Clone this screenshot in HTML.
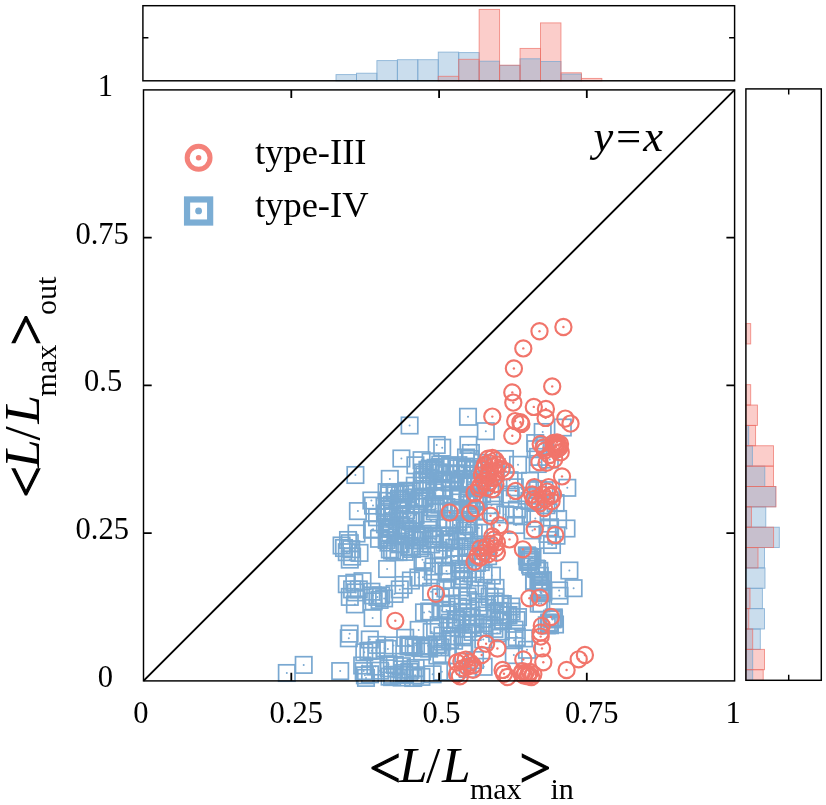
<!DOCTYPE html>
<html><head><meta charset="utf-8"><title>scatter</title><style>html,body{margin:0;padding:0;background:#fff}svg{display:block}</style></head><body>
<svg width="826" height="805" viewBox="0 0 826 805">
<rect width="826" height="805" fill="#fff"/>
<g stroke-width="0.9">
<rect x="438.25" y="76.30" width="20.45" height="4.50" fill="rgba(244,130,122,0.4)" stroke="none"/>
<rect x="458.70" y="59.30" width="20.45" height="21.50" fill="rgba(244,130,122,0.4)" stroke="none"/>
<rect x="479.15" y="9.40" width="20.45" height="71.40" fill="rgba(244,130,122,0.4)" stroke="none"/>
<rect x="499.60" y="65.20" width="20.45" height="15.60" fill="rgba(244,130,122,0.4)" stroke="none"/>
<rect x="520.05" y="48.40" width="20.45" height="32.40" fill="rgba(244,130,122,0.4)" stroke="none"/>
<rect x="540.50" y="22.90" width="20.45" height="57.90" fill="rgba(244,130,122,0.4)" stroke="none"/>
<rect x="560.95" y="72.80" width="20.45" height="8.00" fill="rgba(244,130,122,0.4)" stroke="none"/>
<rect x="581.40" y="78.40" width="20.45" height="2.40" fill="rgba(244,130,122,0.4)" stroke="none"/>
<rect x="745.90" y="323.60" width="4.80" height="20.36" fill="rgba(244,130,122,0.4)" stroke="none"/>
<rect x="745.90" y="384.68" width="4.80" height="20.36" fill="rgba(244,130,122,0.4)" stroke="none"/>
<rect x="745.90" y="405.04" width="11.50" height="20.36" fill="rgba(244,130,122,0.4)" stroke="none"/>
<rect x="745.90" y="425.40" width="9.70" height="20.36" fill="rgba(244,130,122,0.4)" stroke="none"/>
<rect x="745.90" y="445.76" width="27.60" height="20.36" fill="rgba(244,130,122,0.4)" stroke="none"/>
<rect x="745.90" y="466.12" width="27.60" height="20.36" fill="rgba(244,130,122,0.4)" stroke="none"/>
<rect x="745.90" y="486.48" width="30.10" height="20.36" fill="rgba(244,130,122,0.4)" stroke="none"/>
<rect x="745.90" y="506.84" width="5.50" height="20.36" fill="rgba(244,130,122,0.4)" stroke="none"/>
<rect x="745.90" y="527.20" width="27.70" height="20.36" fill="rgba(244,130,122,0.4)" stroke="none"/>
<rect x="745.90" y="547.56" width="12.10" height="20.36" fill="rgba(244,130,122,0.4)" stroke="none"/>
<rect x="745.90" y="588.28" width="4.10" height="20.36" fill="rgba(244,130,122,0.4)" stroke="none"/>
<rect x="745.90" y="608.64" width="2.90" height="20.36" fill="rgba(244,130,122,0.4)" stroke="none"/>
<rect x="745.90" y="629.00" width="6.80" height="20.36" fill="rgba(244,130,122,0.4)" stroke="none"/>
<rect x="745.90" y="649.36" width="18.60" height="20.36" fill="rgba(244,130,122,0.4)" stroke="none"/>
<rect x="745.90" y="669.72" width="17.30" height="10.58" fill="rgba(244,130,122,0.4)" stroke="none"/>
<rect x="336.00" y="74.60" width="20.45" height="6.20" fill="rgba(123,170,211,0.4)" stroke="none"/>
<rect x="356.45" y="73.20" width="20.45" height="7.60" fill="rgba(123,170,211,0.4)" stroke="none"/>
<rect x="376.90" y="60.60" width="20.45" height="20.20" fill="rgba(123,170,211,0.4)" stroke="none"/>
<rect x="397.35" y="59.70" width="20.45" height="21.10" fill="rgba(123,170,211,0.4)" stroke="none"/>
<rect x="417.80" y="59.70" width="20.45" height="21.10" fill="rgba(123,170,211,0.4)" stroke="none"/>
<rect x="438.25" y="52.10" width="20.45" height="28.70" fill="rgba(123,170,211,0.4)" stroke="none"/>
<rect x="458.70" y="52.60" width="20.45" height="28.20" fill="rgba(123,170,211,0.4)" stroke="none"/>
<rect x="479.15" y="61.20" width="20.45" height="19.60" fill="rgba(123,170,211,0.4)" stroke="none"/>
<rect x="499.60" y="65.40" width="20.45" height="15.40" fill="rgba(123,170,211,0.4)" stroke="none"/>
<rect x="520.05" y="58.80" width="20.45" height="22.00" fill="rgba(123,170,211,0.4)" stroke="none"/>
<rect x="540.50" y="61.50" width="20.45" height="19.30" fill="rgba(123,170,211,0.4)" stroke="none"/>
<rect x="560.95" y="74.10" width="20.45" height="6.70" fill="rgba(123,170,211,0.4)" stroke="none"/>
<rect x="745.90" y="425.40" width="2.80" height="20.36" fill="rgba(123,170,211,0.4)" stroke="none"/>
<rect x="745.90" y="445.76" width="6.50" height="20.36" fill="rgba(123,170,211,0.4)" stroke="none"/>
<rect x="745.90" y="466.12" width="18.90" height="20.36" fill="rgba(123,170,211,0.4)" stroke="none"/>
<rect x="745.90" y="486.48" width="29.70" height="20.36" fill="rgba(123,170,211,0.4)" stroke="none"/>
<rect x="745.90" y="506.84" width="19.90" height="20.36" fill="rgba(123,170,211,0.4)" stroke="none"/>
<rect x="745.90" y="527.20" width="33.40" height="20.36" fill="rgba(123,170,211,0.4)" stroke="none"/>
<rect x="745.90" y="547.56" width="18.60" height="20.36" fill="rgba(123,170,211,0.4)" stroke="none"/>
<rect x="745.90" y="567.92" width="19.10" height="20.36" fill="rgba(123,170,211,0.4)" stroke="none"/>
<rect x="745.90" y="588.28" width="16.50" height="20.36" fill="rgba(123,170,211,0.4)" stroke="none"/>
<rect x="745.90" y="608.64" width="18.60" height="20.36" fill="rgba(123,170,211,0.4)" stroke="none"/>
<rect x="745.90" y="629.00" width="14.40" height="20.36" fill="rgba(123,170,211,0.4)" stroke="none"/>
<rect x="745.90" y="649.36" width="6.80" height="20.36" fill="rgba(123,170,211,0.4)" stroke="none"/>
<rect x="745.90" y="669.72" width="6.80" height="10.58" fill="rgba(123,170,211,0.4)" stroke="none"/>
<rect x="336.00" y="74.60" width="20.45" height="6.20" fill="none" stroke="rgba(121,168,209,0.8)"/>
<rect x="356.45" y="73.20" width="20.45" height="7.60" fill="none" stroke="rgba(121,168,209,0.8)"/>
<rect x="376.90" y="60.60" width="20.45" height="20.20" fill="none" stroke="rgba(121,168,209,0.8)"/>
<rect x="397.35" y="59.70" width="20.45" height="21.10" fill="none" stroke="rgba(121,168,209,0.8)"/>
<rect x="417.80" y="59.70" width="20.45" height="21.10" fill="none" stroke="rgba(121,168,209,0.8)"/>
<rect x="438.25" y="52.10" width="20.45" height="28.70" fill="none" stroke="rgba(121,168,209,0.8)"/>
<rect x="458.70" y="52.60" width="20.45" height="28.20" fill="none" stroke="rgba(121,168,209,0.8)"/>
<rect x="479.15" y="61.20" width="20.45" height="19.60" fill="none" stroke="rgba(121,168,209,0.8)"/>
<rect x="499.60" y="65.40" width="20.45" height="15.40" fill="none" stroke="rgba(121,168,209,0.8)"/>
<rect x="520.05" y="58.80" width="20.45" height="22.00" fill="none" stroke="rgba(121,168,209,0.8)"/>
<rect x="540.50" y="61.50" width="20.45" height="19.30" fill="none" stroke="rgba(121,168,209,0.8)"/>
<rect x="560.95" y="74.10" width="20.45" height="6.70" fill="none" stroke="rgba(121,168,209,0.8)"/>
<rect x="745.90" y="425.40" width="2.80" height="20.36" fill="none" stroke="rgba(121,168,209,0.8)"/>
<rect x="745.90" y="445.76" width="6.50" height="20.36" fill="none" stroke="rgba(121,168,209,0.8)"/>
<rect x="745.90" y="466.12" width="18.90" height="20.36" fill="none" stroke="rgba(121,168,209,0.8)"/>
<rect x="745.90" y="486.48" width="29.70" height="20.36" fill="none" stroke="rgba(121,168,209,0.8)"/>
<rect x="745.90" y="506.84" width="19.90" height="20.36" fill="none" stroke="rgba(121,168,209,0.8)"/>
<rect x="745.90" y="527.20" width="33.40" height="20.36" fill="none" stroke="rgba(121,168,209,0.8)"/>
<rect x="745.90" y="547.56" width="18.60" height="20.36" fill="none" stroke="rgba(121,168,209,0.8)"/>
<rect x="745.90" y="567.92" width="19.10" height="20.36" fill="none" stroke="rgba(121,168,209,0.8)"/>
<rect x="745.90" y="588.28" width="16.50" height="20.36" fill="none" stroke="rgba(121,168,209,0.8)"/>
<rect x="745.90" y="608.64" width="18.60" height="20.36" fill="none" stroke="rgba(121,168,209,0.8)"/>
<rect x="745.90" y="629.00" width="14.40" height="20.36" fill="none" stroke="rgba(121,168,209,0.8)"/>
<rect x="745.90" y="649.36" width="6.80" height="20.36" fill="none" stroke="rgba(121,168,209,0.8)"/>
<rect x="745.90" y="669.72" width="6.80" height="10.58" fill="none" stroke="rgba(121,168,209,0.8)"/>
<rect x="438.25" y="76.30" width="20.45" height="4.50" fill="none" stroke="rgba(238,111,102,0.75)"/>
<rect x="458.70" y="59.30" width="20.45" height="21.50" fill="none" stroke="rgba(238,111,102,0.75)"/>
<rect x="479.15" y="9.40" width="20.45" height="71.40" fill="none" stroke="rgba(238,111,102,0.75)"/>
<rect x="499.60" y="65.20" width="20.45" height="15.60" fill="none" stroke="rgba(238,111,102,0.75)"/>
<rect x="520.05" y="48.40" width="20.45" height="32.40" fill="none" stroke="rgba(238,111,102,0.75)"/>
<rect x="540.50" y="22.90" width="20.45" height="57.90" fill="none" stroke="rgba(238,111,102,0.75)"/>
<rect x="560.95" y="72.80" width="20.45" height="8.00" fill="none" stroke="rgba(238,111,102,0.75)"/>
<rect x="581.40" y="78.40" width="20.45" height="2.40" fill="none" stroke="rgba(238,111,102,0.75)"/>
<rect x="745.90" y="323.60" width="4.80" height="20.36" fill="none" stroke="rgba(238,111,102,0.75)"/>
<rect x="745.90" y="384.68" width="4.80" height="20.36" fill="none" stroke="rgba(238,111,102,0.75)"/>
<rect x="745.90" y="405.04" width="11.50" height="20.36" fill="none" stroke="rgba(238,111,102,0.75)"/>
<rect x="745.90" y="425.40" width="9.70" height="20.36" fill="none" stroke="rgba(238,111,102,0.75)"/>
<rect x="745.90" y="445.76" width="27.60" height="20.36" fill="none" stroke="rgba(238,111,102,0.75)"/>
<rect x="745.90" y="466.12" width="27.60" height="20.36" fill="none" stroke="rgba(238,111,102,0.75)"/>
<rect x="745.90" y="486.48" width="30.10" height="20.36" fill="none" stroke="rgba(238,111,102,0.75)"/>
<rect x="745.90" y="506.84" width="5.50" height="20.36" fill="none" stroke="rgba(238,111,102,0.75)"/>
<rect x="745.90" y="527.20" width="27.70" height="20.36" fill="none" stroke="rgba(238,111,102,0.75)"/>
<rect x="745.90" y="547.56" width="12.10" height="20.36" fill="none" stroke="rgba(238,111,102,0.75)"/>
<rect x="745.90" y="588.28" width="4.10" height="20.36" fill="none" stroke="rgba(238,111,102,0.75)"/>
<rect x="745.90" y="608.64" width="2.90" height="20.36" fill="none" stroke="rgba(238,111,102,0.75)"/>
<rect x="745.90" y="629.00" width="6.80" height="20.36" fill="none" stroke="rgba(238,111,102,0.75)"/>
<rect x="745.90" y="649.36" width="18.60" height="20.36" fill="none" stroke="rgba(238,111,102,0.75)"/>
<rect x="745.90" y="669.72" width="17.30" height="10.58" fill="none" stroke="rgba(238,111,102,0.75)"/>
</g>
<g fill="none" stroke="#79a8d1" stroke-width="1.7">
<rect x="278.6" y="664.8" width="16.4" height="16.4"/>
<rect x="295.5" y="656.7" width="16.4" height="16.4"/>
<rect x="401.4" y="417.3" width="16.4" height="16.4"/>
<rect x="393.2" y="450.3" width="16.4" height="16.4"/>
<rect x="347.2" y="466.8" width="16.4" height="16.4"/>
<rect x="381.6" y="470.7" width="16.4" height="16.4"/>
<rect x="349.7" y="502.9" width="16.4" height="16.4"/>
<rect x="428.5" y="436.8" width="16.4" height="16.4"/>
<rect x="434.0" y="439.5" width="16.4" height="16.4"/>
<rect x="459.8" y="408.6" width="16.4" height="16.4"/>
<rect x="460.2" y="436.7" width="16.4" height="16.4"/>
<rect x="457.8" y="449.3" width="16.4" height="16.4"/>
<rect x="461.8" y="450.8" width="16.4" height="16.4"/>
<rect x="477.6" y="423.0" width="16.4" height="16.4"/>
<rect x="534.5" y="423.8" width="16.4" height="16.4"/>
<rect x="554.6" y="419.3" width="16.4" height="16.4"/>
<rect x="527.0" y="434.9" width="16.4" height="16.4"/>
<rect x="509.8" y="456.6" width="16.4" height="16.4"/>
<rect x="559.1" y="479.6" width="16.4" height="16.4"/>
<rect x="558.3" y="520.3" width="16.4" height="16.4"/>
<rect x="496.8" y="450.8" width="16.4" height="16.4"/>
<rect x="561.2" y="562.3" width="16.4" height="16.4"/>
<rect x="565.4" y="580.0" width="16.4" height="16.4"/>
<rect x="551.3" y="587.6" width="16.4" height="16.4"/>
<rect x="363.8" y="521.5" width="16.4" height="16.4"/>
<rect x="348.3" y="525.3" width="16.4" height="16.4"/>
<rect x="368.8" y="509.1" width="16.4" height="16.4"/>
<rect x="364.8" y="497.4" width="16.4" height="16.4"/>
<rect x="407.2" y="457.1" width="16.4" height="16.4"/>
<rect x="378.9" y="560.8" width="16.4" height="16.4"/>
<rect x="332.0" y="662.9" width="16.4" height="16.4"/>
<rect x="341.4" y="625.5" width="16.4" height="16.4"/>
<rect x="340.6" y="630.1" width="16.4" height="16.4"/>
<rect x="364.4" y="609.8" width="16.4" height="16.4"/>
<rect x="361.6" y="631.3" width="16.4" height="16.4"/>
<rect x="356.1" y="644.1" width="16.4" height="16.4"/>
<rect x="410.5" y="621.7" width="16.4" height="16.4"/>
<rect x="422.5" y="604.1" width="16.4" height="16.4"/>
<rect x="346.7" y="596.2" width="16.4" height="16.4"/>
<rect x="438.3" y="601.7" width="16.4" height="16.4"/>
<rect x="439.8" y="606.3" width="16.4" height="16.4"/>
<rect x="442.3" y="595.4" width="16.4" height="16.4"/>
<rect x="454.6" y="595.4" width="16.4" height="16.4"/>
<rect x="386.3" y="585.7" width="16.4" height="16.4"/>
<rect x="391.6" y="581.2" width="16.4" height="16.4"/>
<rect x="395.3" y="576.8" width="16.4" height="16.4"/>
<rect x="410.2" y="569.3" width="16.4" height="16.4"/>
<rect x="402.7" y="572.3" width="16.4" height="16.4"/>
<rect x="422.9" y="583.5" width="16.4" height="16.4"/>
<rect x="545.8" y="610.5" width="16.4" height="16.4"/>
<rect x="546.8" y="616.3" width="16.4" height="16.4"/>
<rect x="475.4" y="658.6" width="16.4" height="16.4"/>
<rect x="333.4" y="537.3" width="16.4" height="16.4"/>
<rect x="341.6" y="535.0" width="16.4" height="16.4"/>
<rect x="343.1" y="541.0" width="16.4" height="16.4"/>
<rect x="338.6" y="544.0" width="16.4" height="16.4"/>
<rect x="343.9" y="548.4" width="16.4" height="16.4"/>
<rect x="351.3" y="544.7" width="16.4" height="16.4"/>
<rect x="341.6" y="551.4" width="16.4" height="16.4"/>
<rect x="335.8" y="539.8" width="16.4" height="16.4"/>
<rect x="339.8" y="531.8" width="16.4" height="16.4"/>
<rect x="338.6" y="576.0" width="16.4" height="16.4"/>
<rect x="346.1" y="574.5" width="16.4" height="16.4"/>
<rect x="354.3" y="573.0" width="16.4" height="16.4"/>
<rect x="343.9" y="581.2" width="16.4" height="16.4"/>
<rect x="347.6" y="584.2" width="16.4" height="16.4"/>
<rect x="341.6" y="588.7" width="16.4" height="16.4"/>
<rect x="350.6" y="581.2" width="16.4" height="16.4"/>
<rect x="364.7" y="587.2" width="16.4" height="16.4"/>
<rect x="369.2" y="588.7" width="16.4" height="16.4"/>
<rect x="372.9" y="587.2" width="16.4" height="16.4"/>
<rect x="375.9" y="590.2" width="16.4" height="16.4"/>
<rect x="371.4" y="591.7" width="16.4" height="16.4"/>
<rect x="365.5" y="593.2" width="16.4" height="16.4"/>
<rect x="363.2" y="583.5" width="16.4" height="16.4"/>
<rect x="527.4" y="441.0" width="16.4" height="16.4"/>
<rect x="536.9" y="437.7" width="16.4" height="16.4"/>
<rect x="546.9" y="438.1" width="16.4" height="16.4"/>
<rect x="462.7" y="444.8" width="16.4" height="16.4"/>
<rect x="529.9" y="448.7" width="16.4" height="16.4"/>
<rect x="541.6" y="451.4" width="16.4" height="16.4"/>
<rect x="413.4" y="452.0" width="16.4" height="16.4"/>
<rect x="422.4" y="453.7" width="16.4" height="16.4"/>
<rect x="432.1" y="456.4" width="16.4" height="16.4"/>
<rect x="450.2" y="457.0" width="16.4" height="16.4"/>
<rect x="456.8" y="458.4" width="16.4" height="16.4"/>
<rect x="464.6" y="461.8" width="16.4" height="16.4"/>
<rect x="470.2" y="458.9" width="16.4" height="16.4"/>
<rect x="474.1" y="454.7" width="16.4" height="16.4"/>
<rect x="529.5" y="455.8" width="16.4" height="16.4"/>
<rect x="420.3" y="461.8" width="16.4" height="16.4"/>
<rect x="422.4" y="460.5" width="16.4" height="16.4"/>
<rect x="425.8" y="462.5" width="16.4" height="16.4"/>
<rect x="429.6" y="464.5" width="16.4" height="16.4"/>
<rect x="435.1" y="471.4" width="16.4" height="16.4"/>
<rect x="433.0" y="464.3" width="16.4" height="16.4"/>
<rect x="436.6" y="465.7" width="16.4" height="16.4"/>
<rect x="447.4" y="466.3" width="16.4" height="16.4"/>
<rect x="447.3" y="465.1" width="16.4" height="16.4"/>
<rect x="443.0" y="466.0" width="16.4" height="16.4"/>
<rect x="454.5" y="471.5" width="16.4" height="16.4"/>
<rect x="454.8" y="470.6" width="16.4" height="16.4"/>
<rect x="451.4" y="473.3" width="16.4" height="16.4"/>
<rect x="462.8" y="471.7" width="16.4" height="16.4"/>
<rect x="462.6" y="475.5" width="16.4" height="16.4"/>
<rect x="474.8" y="462.5" width="16.4" height="16.4"/>
<rect x="487.6" y="464.2" width="16.4" height="16.4"/>
<rect x="406.6" y="477.5" width="16.4" height="16.4"/>
<rect x="413.6" y="473.3" width="16.4" height="16.4"/>
<rect x="420.0" y="474.3" width="16.4" height="16.4"/>
<rect x="429.2" y="481.2" width="16.4" height="16.4"/>
<rect x="433.5" y="479.8" width="16.4" height="16.4"/>
<rect x="426.0" y="472.8" width="16.4" height="16.4"/>
<rect x="441.4" y="474.2" width="16.4" height="16.4"/>
<rect x="434.4" y="480.0" width="16.4" height="16.4"/>
<rect x="434.7" y="473.6" width="16.4" height="16.4"/>
<rect x="442.5" y="474.1" width="16.4" height="16.4"/>
<rect x="450.3" y="477.9" width="16.4" height="16.4"/>
<rect x="461.0" y="473.8" width="16.4" height="16.4"/>
<rect x="460.7" y="476.2" width="16.4" height="16.4"/>
<rect x="461.9" y="475.7" width="16.4" height="16.4"/>
<rect x="463.1" y="475.4" width="16.4" height="16.4"/>
<rect x="471.6" y="478.4" width="16.4" height="16.4"/>
<rect x="477.6" y="473.2" width="16.4" height="16.4"/>
<rect x="482.0" y="480.9" width="16.4" height="16.4"/>
<rect x="501.4" y="472.0" width="16.4" height="16.4"/>
<rect x="506.6" y="479.1" width="16.4" height="16.4"/>
<rect x="521.8" y="472.6" width="16.4" height="16.4"/>
<rect x="529.2" y="480.8" width="16.4" height="16.4"/>
<rect x="381.0" y="485.3" width="16.4" height="16.4"/>
<rect x="390.8" y="490.5" width="16.4" height="16.4"/>
<rect x="391.9" y="486.3" width="16.4" height="16.4"/>
<rect x="398.0" y="485.6" width="16.4" height="16.4"/>
<rect x="397.9" y="482.6" width="16.4" height="16.4"/>
<rect x="411.7" y="490.6" width="16.4" height="16.4"/>
<rect x="405.7" y="489.2" width="16.4" height="16.4"/>
<rect x="416.2" y="490.2" width="16.4" height="16.4"/>
<rect x="416.2" y="489.6" width="16.4" height="16.4"/>
<rect x="426.6" y="484.1" width="16.4" height="16.4"/>
<rect x="426.8" y="487.9" width="16.4" height="16.4"/>
<rect x="434.4" y="481.9" width="16.4" height="16.4"/>
<rect x="433.7" y="480.6" width="16.4" height="16.4"/>
<rect x="450.9" y="488.4" width="16.4" height="16.4"/>
<rect x="452.4" y="487.2" width="16.4" height="16.4"/>
<rect x="443.8" y="486.1" width="16.4" height="16.4"/>
<rect x="460.9" y="490.6" width="16.4" height="16.4"/>
<rect x="459.3" y="489.6" width="16.4" height="16.4"/>
<rect x="466.8" y="490.2" width="16.4" height="16.4"/>
<rect x="468.9" y="491.3" width="16.4" height="16.4"/>
<rect x="470.1" y="493.4" width="16.4" height="16.4"/>
<rect x="473.9" y="485.9" width="16.4" height="16.4"/>
<rect x="486.7" y="485.0" width="16.4" height="16.4"/>
<rect x="501.6" y="486.3" width="16.4" height="16.4"/>
<rect x="502.1" y="490.5" width="16.4" height="16.4"/>
<rect x="518.9" y="487.5" width="16.4" height="16.4"/>
<rect x="529.7" y="482.0" width="16.4" height="16.4"/>
<rect x="536.3" y="482.0" width="16.4" height="16.4"/>
<rect x="363.2" y="492.3" width="16.4" height="16.4"/>
<rect x="376.3" y="498.1" width="16.4" height="16.4"/>
<rect x="389.9" y="501.4" width="16.4" height="16.4"/>
<rect x="383.8" y="496.6" width="16.4" height="16.4"/>
<rect x="391.9" y="496.5" width="16.4" height="16.4"/>
<rect x="393.6" y="494.5" width="16.4" height="16.4"/>
<rect x="392.7" y="492.0" width="16.4" height="16.4"/>
<rect x="409.4" y="495.7" width="16.4" height="16.4"/>
<rect x="410.9" y="492.7" width="16.4" height="16.4"/>
<rect x="419.0" y="493.1" width="16.4" height="16.4"/>
<rect x="415.6" y="489.7" width="16.4" height="16.4"/>
<rect x="427.5" y="500.6" width="16.4" height="16.4"/>
<rect x="431.2" y="496.4" width="16.4" height="16.4"/>
<rect x="423.8" y="499.0" width="16.4" height="16.4"/>
<rect x="438.2" y="499.0" width="16.4" height="16.4"/>
<rect x="450.8" y="501.6" width="16.4" height="16.4"/>
<rect x="447.2" y="499.7" width="16.4" height="16.4"/>
<rect x="460.9" y="500.4" width="16.4" height="16.4"/>
<rect x="463.0" y="501.5" width="16.4" height="16.4"/>
<rect x="459.5" y="496.7" width="16.4" height="16.4"/>
<rect x="469.9" y="492.4" width="16.4" height="16.4"/>
<rect x="463.5" y="495.2" width="16.4" height="16.4"/>
<rect x="483.3" y="497.0" width="16.4" height="16.4"/>
<rect x="508.7" y="501.3" width="16.4" height="16.4"/>
<rect x="521.3" y="492.7" width="16.4" height="16.4"/>
<rect x="527.1" y="494.7" width="16.4" height="16.4"/>
<rect x="538.2" y="497.0" width="16.4" height="16.4"/>
<rect x="547.4" y="494.9" width="16.4" height="16.4"/>
<rect x="380.8" y="503.9" width="16.4" height="16.4"/>
<rect x="391.5" y="507.0" width="16.4" height="16.4"/>
<rect x="383.8" y="507.2" width="16.4" height="16.4"/>
<rect x="397.9" y="502.1" width="16.4" height="16.4"/>
<rect x="397.0" y="505.8" width="16.4" height="16.4"/>
<rect x="407.4" y="506.7" width="16.4" height="16.4"/>
<rect x="402.5" y="507.2" width="16.4" height="16.4"/>
<rect x="421.4" y="511.0" width="16.4" height="16.4"/>
<rect x="426.5" y="503.1" width="16.4" height="16.4"/>
<rect x="440.0" y="510.8" width="16.4" height="16.4"/>
<rect x="445.0" y="503.7" width="16.4" height="16.4"/>
<rect x="451.1" y="503.1" width="16.4" height="16.4"/>
<rect x="452.0" y="503.7" width="16.4" height="16.4"/>
<rect x="451.3" y="502.0" width="16.4" height="16.4"/>
<rect x="468.0" y="502.8" width="16.4" height="16.4"/>
<rect x="486.9" y="504.3" width="16.4" height="16.4"/>
<rect x="497.1" y="506.2" width="16.4" height="16.4"/>
<rect x="505.9" y="507.1" width="16.4" height="16.4"/>
<rect x="513.8" y="508.1" width="16.4" height="16.4"/>
<rect x="527.1" y="510.3" width="16.4" height="16.4"/>
<rect x="540.4" y="504.1" width="16.4" height="16.4"/>
<rect x="549.9" y="510.8" width="16.4" height="16.4"/>
<rect x="364.9" y="521.0" width="16.4" height="16.4"/>
<rect x="381.8" y="520.7" width="16.4" height="16.4"/>
<rect x="382.0" y="524.2" width="16.4" height="16.4"/>
<rect x="382.8" y="520.1" width="16.4" height="16.4"/>
<rect x="383.1" y="519.0" width="16.4" height="16.4"/>
<rect x="382.6" y="519.7" width="16.4" height="16.4"/>
<rect x="398.6" y="520.9" width="16.4" height="16.4"/>
<rect x="393.0" y="516.9" width="16.4" height="16.4"/>
<rect x="396.8" y="518.7" width="16.4" height="16.4"/>
<rect x="402.5" y="512.9" width="16.4" height="16.4"/>
<rect x="400.0" y="512.0" width="16.4" height="16.4"/>
<rect x="403.3" y="513.6" width="16.4" height="16.4"/>
<rect x="420.2" y="521.7" width="16.4" height="16.4"/>
<rect x="422.8" y="512.4" width="16.4" height="16.4"/>
<rect x="436.4" y="519.4" width="16.4" height="16.4"/>
<rect x="446.5" y="517.0" width="16.4" height="16.4"/>
<rect x="446.2" y="516.7" width="16.4" height="16.4"/>
<rect x="450.2" y="513.6" width="16.4" height="16.4"/>
<rect x="459.2" y="515.9" width="16.4" height="16.4"/>
<rect x="460.5" y="518.1" width="16.4" height="16.4"/>
<rect x="470.7" y="519.8" width="16.4" height="16.4"/>
<rect x="507.8" y="516.8" width="16.4" height="16.4"/>
<rect x="540.9" y="519.2" width="16.4" height="16.4"/>
<rect x="370.8" y="530.6" width="16.4" height="16.4"/>
<rect x="379.5" y="529.5" width="16.4" height="16.4"/>
<rect x="389.0" y="522.5" width="16.4" height="16.4"/>
<rect x="388.7" y="522.6" width="16.4" height="16.4"/>
<rect x="398.2" y="528.0" width="16.4" height="16.4"/>
<rect x="401.3" y="526.9" width="16.4" height="16.4"/>
<rect x="396.7" y="525.6" width="16.4" height="16.4"/>
<rect x="405.7" y="531.8" width="16.4" height="16.4"/>
<rect x="408.8" y="529.4" width="16.4" height="16.4"/>
<rect x="412.0" y="528.0" width="16.4" height="16.4"/>
<rect x="414.4" y="525.8" width="16.4" height="16.4"/>
<rect x="423.8" y="525.6" width="16.4" height="16.4"/>
<rect x="423.7" y="530.3" width="16.4" height="16.4"/>
<rect x="426.9" y="531.5" width="16.4" height="16.4"/>
<rect x="441.8" y="528.2" width="16.4" height="16.4"/>
<rect x="432.6" y="527.8" width="16.4" height="16.4"/>
<rect x="442.3" y="531.1" width="16.4" height="16.4"/>
<rect x="440.9" y="531.3" width="16.4" height="16.4"/>
<rect x="457.9" y="522.4" width="16.4" height="16.4"/>
<rect x="456.0" y="527.1" width="16.4" height="16.4"/>
<rect x="465.5" y="524.7" width="16.4" height="16.4"/>
<rect x="477.4" y="524.6" width="16.4" height="16.4"/>
<rect x="524.3" y="522.2" width="16.4" height="16.4"/>
<rect x="539.3" y="525.7" width="16.4" height="16.4"/>
<rect x="381.7" y="541.2" width="16.4" height="16.4"/>
<rect x="390.9" y="536.1" width="16.4" height="16.4"/>
<rect x="392.5" y="535.8" width="16.4" height="16.4"/>
<rect x="401.2" y="539.0" width="16.4" height="16.4"/>
<rect x="411.6" y="540.0" width="16.4" height="16.4"/>
<rect x="403.0" y="538.0" width="16.4" height="16.4"/>
<rect x="413.8" y="532.3" width="16.4" height="16.4"/>
<rect x="423.0" y="536.2" width="16.4" height="16.4"/>
<rect x="436.4" y="534.4" width="16.4" height="16.4"/>
<rect x="446.0" y="539.6" width="16.4" height="16.4"/>
<rect x="451.4" y="539.5" width="16.4" height="16.4"/>
<rect x="454.2" y="532.9" width="16.4" height="16.4"/>
<rect x="459.6" y="538.0" width="16.4" height="16.4"/>
<rect x="464.5" y="538.7" width="16.4" height="16.4"/>
<rect x="477.7" y="538.1" width="16.4" height="16.4"/>
<rect x="414.3" y="551.6" width="16.4" height="16.4"/>
<rect x="430.6" y="542.2" width="16.4" height="16.4"/>
<rect x="434.5" y="546.1" width="16.4" height="16.4"/>
<rect x="442.8" y="547.2" width="16.4" height="16.4"/>
<rect x="445.7" y="548.9" width="16.4" height="16.4"/>
<rect x="458.1" y="545.5" width="16.4" height="16.4"/>
<rect x="458.6" y="547.5" width="16.4" height="16.4"/>
<rect x="470.2" y="542.5" width="16.4" height="16.4"/>
<rect x="479.9" y="548.0" width="16.4" height="16.4"/>
<rect x="416.0" y="554.4" width="16.4" height="16.4"/>
<rect x="425.5" y="558.3" width="16.4" height="16.4"/>
<rect x="435.1" y="557.3" width="16.4" height="16.4"/>
<rect x="451.0" y="556.1" width="16.4" height="16.4"/>
<rect x="452.8" y="560.6" width="16.4" height="16.4"/>
<rect x="455.2" y="562.0" width="16.4" height="16.4"/>
<rect x="468.7" y="554.8" width="16.4" height="16.4"/>
<rect x="472.6" y="553.9" width="16.4" height="16.4"/>
<rect x="414.8" y="569.0" width="16.4" height="16.4"/>
<rect x="424.6" y="563.2" width="16.4" height="16.4"/>
<rect x="439.1" y="565.5" width="16.4" height="16.4"/>
<rect x="438.3" y="562.7" width="16.4" height="16.4"/>
<rect x="451.2" y="570.9" width="16.4" height="16.4"/>
<rect x="459.8" y="564.8" width="16.4" height="16.4"/>
<rect x="455.7" y="567.9" width="16.4" height="16.4"/>
<rect x="464.3" y="565.4" width="16.4" height="16.4"/>
<rect x="475.4" y="565.8" width="16.4" height="16.4"/>
<rect x="483.7" y="567.4" width="16.4" height="16.4"/>
<rect x="437.2" y="580.2" width="16.4" height="16.4"/>
<rect x="443.6" y="579.4" width="16.4" height="16.4"/>
<rect x="454.6" y="572.0" width="16.4" height="16.4"/>
<rect x="467.2" y="577.5" width="16.4" height="16.4"/>
<rect x="478.3" y="579.8" width="16.4" height="16.4"/>
<rect x="487.3" y="579.7" width="16.4" height="16.4"/>
<rect x="432.6" y="589.2" width="16.4" height="16.4"/>
<rect x="442.6" y="588.1" width="16.4" height="16.4"/>
<rect x="459.3" y="588.3" width="16.4" height="16.4"/>
<rect x="459.9" y="592.0" width="16.4" height="16.4"/>
<rect x="469.4" y="585.7" width="16.4" height="16.4"/>
<rect x="481.5" y="588.5" width="16.4" height="16.4"/>
<rect x="487.2" y="589.0" width="16.4" height="16.4"/>
<rect x="450.1" y="598.5" width="16.4" height="16.4"/>
<rect x="459.9" y="600.1" width="16.4" height="16.4"/>
<rect x="471.4" y="598.2" width="16.4" height="16.4"/>
<rect x="478.9" y="599.8" width="16.4" height="16.4"/>
<rect x="486.0" y="593.3" width="16.4" height="16.4"/>
<rect x="491.7" y="595.6" width="16.4" height="16.4"/>
<rect x="493.8" y="596.0" width="16.4" height="16.4"/>
<rect x="494.6" y="595.9" width="16.4" height="16.4"/>
<rect x="502.9" y="598.3" width="16.4" height="16.4"/>
<rect x="433.6" y="602.4" width="16.4" height="16.4"/>
<rect x="447.6" y="610.9" width="16.4" height="16.4"/>
<rect x="448.7" y="611.8" width="16.4" height="16.4"/>
<rect x="454.2" y="609.0" width="16.4" height="16.4"/>
<rect x="454.0" y="603.6" width="16.4" height="16.4"/>
<rect x="463.5" y="609.4" width="16.4" height="16.4"/>
<rect x="459.7" y="608.2" width="16.4" height="16.4"/>
<rect x="474.4" y="610.7" width="16.4" height="16.4"/>
<rect x="475.2" y="607.3" width="16.4" height="16.4"/>
<rect x="486.6" y="604.0" width="16.4" height="16.4"/>
<rect x="490.4" y="602.7" width="16.4" height="16.4"/>
<rect x="497.1" y="607.0" width="16.4" height="16.4"/>
<rect x="500.3" y="606.8" width="16.4" height="16.4"/>
<rect x="499.6" y="607.1" width="16.4" height="16.4"/>
<rect x="509.8" y="608.9" width="16.4" height="16.4"/>
<rect x="503.4" y="603.4" width="16.4" height="16.4"/>
<rect x="430.5" y="617.0" width="16.4" height="16.4"/>
<rect x="441.7" y="614.5" width="16.4" height="16.4"/>
<rect x="443.3" y="619.5" width="16.4" height="16.4"/>
<rect x="460.0" y="620.3" width="16.4" height="16.4"/>
<rect x="452.6" y="614.5" width="16.4" height="16.4"/>
<rect x="462.8" y="616.6" width="16.4" height="16.4"/>
<rect x="465.6" y="615.8" width="16.4" height="16.4"/>
<rect x="474.8" y="619.7" width="16.4" height="16.4"/>
<rect x="475.7" y="619.2" width="16.4" height="16.4"/>
<rect x="483.9" y="617.2" width="16.4" height="16.4"/>
<rect x="486.2" y="620.7" width="16.4" height="16.4"/>
<rect x="494.9" y="612.6" width="16.4" height="16.4"/>
<rect x="491.5" y="613.3" width="16.4" height="16.4"/>
<rect x="494.5" y="611.6" width="16.4" height="16.4"/>
<rect x="506.4" y="621.5" width="16.4" height="16.4"/>
<rect x="508.3" y="611.9" width="16.4" height="16.4"/>
<rect x="434.2" y="627.4" width="16.4" height="16.4"/>
<rect x="441.9" y="631.7" width="16.4" height="16.4"/>
<rect x="443.9" y="628.0" width="16.4" height="16.4"/>
<rect x="455.6" y="627.2" width="16.4" height="16.4"/>
<rect x="454.4" y="629.1" width="16.4" height="16.4"/>
<rect x="464.4" y="623.8" width="16.4" height="16.4"/>
<rect x="475.1" y="631.3" width="16.4" height="16.4"/>
<rect x="489.0" y="625.1" width="16.4" height="16.4"/>
<rect x="492.7" y="623.2" width="16.4" height="16.4"/>
<rect x="508.6" y="628.9" width="16.4" height="16.4"/>
<rect x="515.8" y="630.2" width="16.4" height="16.4"/>
<rect x="434.1" y="633.4" width="16.4" height="16.4"/>
<rect x="445.9" y="632.5" width="16.4" height="16.4"/>
<rect x="456.1" y="636.9" width="16.4" height="16.4"/>
<rect x="505.9" y="632.0" width="16.4" height="16.4"/>
<rect x="518.8" y="641.6" width="16.4" height="16.4"/>
<rect x="455.1" y="645.2" width="16.4" height="16.4"/>
<rect x="505.6" y="646.9" width="16.4" height="16.4"/>
<rect x="459.5" y="660.8" width="16.4" height="16.4"/>
<rect x="368.6" y="636.7" width="16.4" height="16.4"/>
<rect x="397.0" y="629.6" width="16.4" height="16.4"/>
<rect x="412.2" y="639.9" width="16.4" height="16.4"/>
<rect x="429.6" y="637.0" width="16.4" height="16.4"/>
<rect x="405.5" y="639.2" width="16.4" height="16.4"/>
<rect x="376.4" y="640.1" width="16.4" height="16.4"/>
<rect x="401.6" y="637.9" width="16.4" height="16.4"/>
<rect x="428.4" y="636.1" width="16.4" height="16.4"/>
<rect x="385.3" y="637.2" width="16.4" height="16.4"/>
<rect x="431.8" y="639.2" width="16.4" height="16.4"/>
<rect x="368.1" y="642.1" width="16.4" height="16.4"/>
<rect x="400.4" y="636.5" width="16.4" height="16.4"/>
<rect x="400.4" y="638.2" width="16.4" height="16.4"/>
<rect x="433.2" y="645.8" width="16.4" height="16.4"/>
<rect x="419.9" y="637.5" width="16.4" height="16.4"/>
<rect x="420.5" y="637.8" width="16.4" height="16.4"/>
<rect x="379.7" y="640.7" width="16.4" height="16.4"/>
<rect x="401.4" y="637.4" width="16.4" height="16.4"/>
<rect x="420.9" y="640.4" width="16.4" height="16.4"/>
<rect x="363.6" y="642.5" width="16.4" height="16.4"/>
<rect x="360.2" y="642.8" width="16.4" height="16.4"/>
<rect x="429.2" y="647.3" width="16.4" height="16.4"/>
<rect x="407.8" y="637.1" width="16.4" height="16.4"/>
<rect x="413.9" y="643.3" width="16.4" height="16.4"/>
<rect x="380.3" y="656.0" width="16.4" height="16.4"/>
<rect x="354.0" y="657.3" width="16.4" height="16.4"/>
<rect x="367.2" y="658.4" width="16.4" height="16.4"/>
<rect x="380.6" y="660.1" width="16.4" height="16.4"/>
<rect x="393.8" y="661.2" width="16.4" height="16.4"/>
<rect x="371.8" y="662.5" width="16.4" height="16.4"/>
<rect x="393.7" y="658.0" width="16.4" height="16.4"/>
<rect x="355.5" y="662.9" width="16.4" height="16.4"/>
<rect x="401.1" y="663.7" width="16.4" height="16.4"/>
<rect x="396.0" y="664.8" width="16.4" height="16.4"/>
<rect x="386.6" y="656.8" width="16.4" height="16.4"/>
<rect x="402.4" y="661.6" width="16.4" height="16.4"/>
<rect x="407.4" y="659.8" width="16.4" height="16.4"/>
<rect x="424.4" y="666.1" width="16.4" height="16.4"/>
<rect x="413.2" y="668.7" width="16.4" height="16.4"/>
<rect x="384.0" y="666.6" width="16.4" height="16.4"/>
<rect x="393.5" y="669.3" width="16.4" height="16.4"/>
<rect x="390.6" y="666.8" width="16.4" height="16.4"/>
<rect x="383.9" y="668.9" width="16.4" height="16.4"/>
<rect x="356.7" y="667.1" width="16.4" height="16.4"/>
<rect x="405.0" y="669.8" width="16.4" height="16.4"/>
<rect x="395.8" y="666.4" width="16.4" height="16.4"/>
<rect x="406.9" y="667.1" width="16.4" height="16.4"/>
<rect x="357.8" y="669.7" width="16.4" height="16.4"/>
<rect x="361.8" y="666.1" width="16.4" height="16.4"/>
<rect x="381.4" y="668.4" width="16.4" height="16.4"/>
<rect x="378.4" y="483.9" width="16.4" height="16.4"/>
<rect x="378.5" y="492.7" width="16.4" height="16.4"/>
<rect x="380.8" y="498.2" width="16.4" height="16.4"/>
<rect x="377.8" y="505.3" width="16.4" height="16.4"/>
<rect x="379.0" y="508.9" width="16.4" height="16.4"/>
<rect x="376.8" y="516.1" width="16.4" height="16.4"/>
<rect x="378.9" y="518.5" width="16.4" height="16.4"/>
<rect x="378.8" y="527.0" width="16.4" height="16.4"/>
<rect x="378.5" y="531.8" width="16.4" height="16.4"/>
<rect x="380.3" y="534.4" width="16.4" height="16.4"/>
<rect x="380.7" y="484.8" width="16.4" height="16.4"/>
<rect x="386.4" y="484.2" width="16.4" height="16.4"/>
<rect x="387.5" y="483.8" width="16.4" height="16.4"/>
<rect x="396.4" y="483.9" width="16.4" height="16.4"/>
<rect x="400.3" y="482.8" width="16.4" height="16.4"/>
<rect x="402.8" y="483.0" width="16.4" height="16.4"/>
<rect x="419.2" y="461.6" width="16.4" height="16.4"/>
<rect x="426.6" y="461.2" width="16.4" height="16.4"/>
<rect x="427.4" y="459.6" width="16.4" height="16.4"/>
<rect x="431.8" y="458.9" width="16.4" height="16.4"/>
<rect x="442.4" y="458.6" width="16.4" height="16.4"/>
<rect x="441.7" y="457.6" width="16.4" height="16.4"/>
<rect x="449.9" y="460.1" width="16.4" height="16.4"/>
<rect x="453.6" y="459.2" width="16.4" height="16.4"/>
<rect x="458.5" y="461.3" width="16.4" height="16.4"/>
<rect x="465.7" y="460.9" width="16.4" height="16.4"/>
<rect x="414.2" y="464.3" width="16.4" height="16.4"/>
<rect x="416.1" y="466.3" width="16.4" height="16.4"/>
<rect x="414.5" y="472.0" width="16.4" height="16.4"/>
<rect x="413.7" y="482.2" width="16.4" height="16.4"/>
<rect x="383.9" y="542.3" width="16.4" height="16.4"/>
<rect x="386.5" y="543.9" width="16.4" height="16.4"/>
<rect x="390.3" y="543.9" width="16.4" height="16.4"/>
<rect x="396.4" y="543.7" width="16.4" height="16.4"/>
<rect x="403.9" y="540.8" width="16.4" height="16.4"/>
<rect x="415.8" y="604.2" width="16.4" height="16.4"/>
<rect x="421.0" y="603.3" width="16.4" height="16.4"/>
<rect x="423.5" y="623.8" width="16.4" height="16.4"/>
<rect x="433.7" y="663.5" width="16.4" height="16.4"/>
<rect x="447.2" y="663.5" width="16.4" height="16.4"/>
<rect x="466.8" y="651.8" width="16.4" height="16.4"/>
<rect x="519.1" y="548.1" width="16.4" height="16.4"/>
<rect x="521.9" y="556.5" width="16.4" height="16.4"/>
<rect x="522.7" y="558.3" width="16.4" height="16.4"/>
<rect x="521.7" y="551.6" width="16.4" height="16.4"/>
<rect x="522.9" y="548.9" width="16.4" height="16.4"/>
<rect x="524.3" y="549.2" width="16.4" height="16.4"/>
<rect x="520.2" y="553.8" width="16.4" height="16.4"/>
<rect x="519.3" y="553.1" width="16.4" height="16.4"/>
<rect x="520.6" y="551.2" width="16.4" height="16.4"/>
<rect x="520.7" y="548.6" width="16.4" height="16.4"/>
<rect x="519.1" y="547.8" width="16.4" height="16.4"/>
<rect x="518.7" y="547.2" width="16.4" height="16.4"/>
<rect x="531.7" y="573.5" width="16.4" height="16.4"/>
<rect x="531.8" y="573.7" width="16.4" height="16.4"/>
<rect x="530.2" y="574.2" width="16.4" height="16.4"/>
<rect x="531.8" y="573.0" width="16.4" height="16.4"/>
<rect x="531.6" y="567.6" width="16.4" height="16.4"/>
<rect x="527.7" y="560.4" width="16.4" height="16.4"/>
<rect x="528.9" y="560.8" width="16.4" height="16.4"/>
<rect x="531.1" y="562.6" width="16.4" height="16.4"/>
<rect x="525.9" y="572.6" width="16.4" height="16.4"/>
<rect x="525.8" y="573.5" width="16.4" height="16.4"/>
<rect x="534.8" y="572.0" width="16.4" height="16.4"/>
<rect x="533.6" y="572.7" width="16.4" height="16.4"/>
<rect x="533.1" y="595.2" width="16.4" height="16.4"/>
<rect x="530.6" y="595.4" width="16.4" height="16.4"/>
<rect x="532.7" y="584.9" width="16.4" height="16.4"/>
<rect x="532.0" y="580.6" width="16.4" height="16.4"/>
<rect x="532.6" y="583.7" width="16.4" height="16.4"/>
<rect x="532.1" y="583.9" width="16.4" height="16.4"/>
<rect x="535.2" y="583.6" width="16.4" height="16.4"/>
<rect x="533.2" y="580.9" width="16.4" height="16.4"/>
<rect x="533.3" y="585.0" width="16.4" height="16.4"/>
<rect x="534.0" y="582.5" width="16.4" height="16.4"/>
<rect x="545.6" y="609.2" width="16.4" height="16.4"/>
<rect x="543.8" y="610.5" width="16.4" height="16.4"/>
<rect x="544.3" y="611.2" width="16.4" height="16.4"/>
<rect x="540.9" y="615.3" width="16.4" height="16.4"/>
<rect x="538.6" y="617.1" width="16.4" height="16.4"/>
<rect x="541.1" y="614.3" width="16.4" height="16.4"/>
<rect x="541.7" y="617.0" width="16.4" height="16.4"/>
<rect x="541.2" y="616.3" width="16.4" height="16.4"/>
<rect x="550.9" y="582.2" width="16.4" height="16.4"/>
<rect x="548.3" y="527.5" width="16.4" height="16.4"/>
<rect x="539.8" y="531.8" width="16.4" height="16.4"/>
<rect x="543.8" y="536.8" width="16.4" height="16.4"/>
</g>
<g fill="#79a8d1">
<circle cx="286.8" cy="673.0" r="1"/>
<circle cx="303.7" cy="664.9" r="1"/>
<circle cx="409.6" cy="425.5" r="1"/>
<circle cx="401.4" cy="458.5" r="1"/>
<circle cx="355.4" cy="475.0" r="1"/>
<circle cx="389.8" cy="478.9" r="1"/>
<circle cx="357.9" cy="511.1" r="1"/>
<circle cx="436.7" cy="445.0" r="1"/>
<circle cx="442.2" cy="447.7" r="1"/>
<circle cx="468.0" cy="416.8" r="1"/>
<circle cx="468.4" cy="444.9" r="1"/>
<circle cx="466.0" cy="457.5" r="1"/>
<circle cx="470.0" cy="459.0" r="1"/>
<circle cx="485.8" cy="431.2" r="1"/>
<circle cx="542.7" cy="432.0" r="1"/>
<circle cx="562.8" cy="427.5" r="1"/>
<circle cx="535.2" cy="443.1" r="1"/>
<circle cx="518.0" cy="464.8" r="1"/>
<circle cx="567.3" cy="487.8" r="1"/>
<circle cx="566.5" cy="528.5" r="1"/>
<circle cx="505.0" cy="459.0" r="1"/>
<circle cx="569.4" cy="570.5" r="1"/>
<circle cx="573.6" cy="588.2" r="1"/>
<circle cx="559.5" cy="595.8" r="1"/>
<circle cx="372.0" cy="529.7" r="1"/>
<circle cx="356.5" cy="533.5" r="1"/>
<circle cx="377.0" cy="517.3" r="1"/>
<circle cx="373.0" cy="505.6" r="1"/>
<circle cx="415.4" cy="465.3" r="1"/>
<circle cx="387.1" cy="569.0" r="1"/>
<circle cx="340.2" cy="671.1" r="1"/>
<circle cx="349.6" cy="633.7" r="1"/>
<circle cx="348.8" cy="638.3" r="1"/>
<circle cx="372.6" cy="618.0" r="1"/>
<circle cx="369.8" cy="639.5" r="1"/>
<circle cx="364.3" cy="652.3" r="1"/>
<circle cx="418.7" cy="629.9" r="1"/>
<circle cx="430.7" cy="612.3" r="1"/>
<circle cx="354.9" cy="604.4" r="1"/>
<circle cx="446.5" cy="609.9" r="1"/>
<circle cx="448.0" cy="614.5" r="1"/>
<circle cx="450.5" cy="603.6" r="1"/>
<circle cx="462.8" cy="603.6" r="1"/>
<circle cx="394.5" cy="593.9" r="1"/>
<circle cx="399.8" cy="589.4" r="1"/>
<circle cx="403.5" cy="585.0" r="1"/>
<circle cx="418.4" cy="577.5" r="1"/>
<circle cx="410.9" cy="580.5" r="1"/>
<circle cx="431.1" cy="591.7" r="1"/>
<circle cx="554.0" cy="618.7" r="1"/>
<circle cx="555.0" cy="624.5" r="1"/>
<circle cx="483.6" cy="666.8" r="1"/>
<circle cx="341.6" cy="545.5" r="1"/>
<circle cx="349.8" cy="543.2" r="1"/>
<circle cx="351.3" cy="549.2" r="1"/>
<circle cx="346.8" cy="552.2" r="1"/>
<circle cx="352.1" cy="556.6" r="1"/>
<circle cx="359.5" cy="552.9" r="1"/>
<circle cx="349.8" cy="559.6" r="1"/>
<circle cx="344.0" cy="548.0" r="1"/>
<circle cx="348.0" cy="540.0" r="1"/>
<circle cx="346.8" cy="584.2" r="1"/>
<circle cx="354.3" cy="582.7" r="1"/>
<circle cx="362.5" cy="581.2" r="1"/>
<circle cx="352.1" cy="589.4" r="1"/>
<circle cx="355.8" cy="592.4" r="1"/>
<circle cx="349.8" cy="596.9" r="1"/>
<circle cx="358.8" cy="589.4" r="1"/>
<circle cx="372.9" cy="595.4" r="1"/>
<circle cx="377.4" cy="596.9" r="1"/>
<circle cx="381.1" cy="595.4" r="1"/>
<circle cx="384.1" cy="598.4" r="1"/>
<circle cx="379.6" cy="599.9" r="1"/>
<circle cx="373.7" cy="601.4" r="1"/>
<circle cx="371.4" cy="591.7" r="1"/>
<circle cx="535.6" cy="449.2" r="1"/>
<circle cx="545.1" cy="445.9" r="1"/>
<circle cx="555.1" cy="446.3" r="1"/>
<circle cx="470.9" cy="453.0" r="1"/>
<circle cx="538.1" cy="456.9" r="1"/>
<circle cx="549.8" cy="459.6" r="1"/>
<circle cx="421.6" cy="460.2" r="1"/>
<circle cx="430.6" cy="461.9" r="1"/>
<circle cx="440.3" cy="464.6" r="1"/>
<circle cx="458.4" cy="465.2" r="1"/>
<circle cx="465.0" cy="466.6" r="1"/>
<circle cx="472.8" cy="470.0" r="1"/>
<circle cx="478.4" cy="467.1" r="1"/>
<circle cx="482.3" cy="462.9" r="1"/>
<circle cx="537.7" cy="464.0" r="1"/>
<circle cx="428.5" cy="470.0" r="1"/>
<circle cx="430.6" cy="468.7" r="1"/>
<circle cx="434.0" cy="470.7" r="1"/>
<circle cx="437.8" cy="472.7" r="1"/>
<circle cx="443.3" cy="479.6" r="1"/>
<circle cx="441.2" cy="472.5" r="1"/>
<circle cx="444.8" cy="473.9" r="1"/>
<circle cx="455.6" cy="474.5" r="1"/>
<circle cx="455.5" cy="473.3" r="1"/>
<circle cx="451.2" cy="474.2" r="1"/>
<circle cx="462.7" cy="479.7" r="1"/>
<circle cx="463.0" cy="478.8" r="1"/>
<circle cx="459.6" cy="481.5" r="1"/>
<circle cx="471.0" cy="479.9" r="1"/>
<circle cx="470.8" cy="483.7" r="1"/>
<circle cx="483.0" cy="470.7" r="1"/>
<circle cx="495.8" cy="472.4" r="1"/>
<circle cx="414.8" cy="485.7" r="1"/>
<circle cx="421.8" cy="481.5" r="1"/>
<circle cx="428.2" cy="482.5" r="1"/>
<circle cx="437.4" cy="489.4" r="1"/>
<circle cx="441.7" cy="488.0" r="1"/>
<circle cx="434.2" cy="481.0" r="1"/>
<circle cx="449.6" cy="482.4" r="1"/>
<circle cx="442.6" cy="488.2" r="1"/>
<circle cx="442.9" cy="481.8" r="1"/>
<circle cx="450.7" cy="482.3" r="1"/>
<circle cx="458.5" cy="486.1" r="1"/>
<circle cx="469.2" cy="482.0" r="1"/>
<circle cx="468.9" cy="484.4" r="1"/>
<circle cx="470.1" cy="483.9" r="1"/>
<circle cx="471.3" cy="483.6" r="1"/>
<circle cx="479.8" cy="486.6" r="1"/>
<circle cx="485.8" cy="481.4" r="1"/>
<circle cx="490.2" cy="489.1" r="1"/>
<circle cx="509.6" cy="480.2" r="1"/>
<circle cx="514.8" cy="487.3" r="1"/>
<circle cx="530.0" cy="480.8" r="1"/>
<circle cx="537.4" cy="489.0" r="1"/>
<circle cx="389.2" cy="493.5" r="1"/>
<circle cx="399.0" cy="498.7" r="1"/>
<circle cx="400.1" cy="494.5" r="1"/>
<circle cx="406.2" cy="493.8" r="1"/>
<circle cx="406.1" cy="490.8" r="1"/>
<circle cx="419.9" cy="498.8" r="1"/>
<circle cx="413.9" cy="497.4" r="1"/>
<circle cx="424.4" cy="498.4" r="1"/>
<circle cx="424.4" cy="497.8" r="1"/>
<circle cx="434.8" cy="492.3" r="1"/>
<circle cx="435.0" cy="496.1" r="1"/>
<circle cx="442.6" cy="490.1" r="1"/>
<circle cx="441.9" cy="488.8" r="1"/>
<circle cx="459.1" cy="496.6" r="1"/>
<circle cx="460.6" cy="495.4" r="1"/>
<circle cx="452.0" cy="494.3" r="1"/>
<circle cx="469.1" cy="498.8" r="1"/>
<circle cx="467.5" cy="497.8" r="1"/>
<circle cx="475.0" cy="498.4" r="1"/>
<circle cx="477.1" cy="499.5" r="1"/>
<circle cx="478.3" cy="501.6" r="1"/>
<circle cx="482.1" cy="494.1" r="1"/>
<circle cx="494.9" cy="493.2" r="1"/>
<circle cx="509.8" cy="494.5" r="1"/>
<circle cx="510.3" cy="498.7" r="1"/>
<circle cx="527.1" cy="495.7" r="1"/>
<circle cx="537.9" cy="490.2" r="1"/>
<circle cx="544.5" cy="490.2" r="1"/>
<circle cx="371.4" cy="500.5" r="1"/>
<circle cx="384.5" cy="506.3" r="1"/>
<circle cx="398.1" cy="509.6" r="1"/>
<circle cx="392.0" cy="504.8" r="1"/>
<circle cx="400.1" cy="504.7" r="1"/>
<circle cx="401.8" cy="502.7" r="1"/>
<circle cx="400.9" cy="500.2" r="1"/>
<circle cx="417.6" cy="503.9" r="1"/>
<circle cx="419.1" cy="500.9" r="1"/>
<circle cx="427.2" cy="501.3" r="1"/>
<circle cx="423.8" cy="497.9" r="1"/>
<circle cx="435.7" cy="508.8" r="1"/>
<circle cx="439.4" cy="504.6" r="1"/>
<circle cx="432.0" cy="507.2" r="1"/>
<circle cx="446.4" cy="507.2" r="1"/>
<circle cx="459.0" cy="509.8" r="1"/>
<circle cx="455.4" cy="507.9" r="1"/>
<circle cx="469.1" cy="508.6" r="1"/>
<circle cx="471.2" cy="509.7" r="1"/>
<circle cx="467.7" cy="504.9" r="1"/>
<circle cx="478.1" cy="500.6" r="1"/>
<circle cx="471.7" cy="503.4" r="1"/>
<circle cx="491.5" cy="505.2" r="1"/>
<circle cx="516.9" cy="509.5" r="1"/>
<circle cx="529.5" cy="500.9" r="1"/>
<circle cx="535.3" cy="502.9" r="1"/>
<circle cx="546.4" cy="505.2" r="1"/>
<circle cx="555.6" cy="503.1" r="1"/>
<circle cx="389.0" cy="512.1" r="1"/>
<circle cx="399.7" cy="515.2" r="1"/>
<circle cx="392.0" cy="515.4" r="1"/>
<circle cx="406.1" cy="510.3" r="1"/>
<circle cx="405.2" cy="514.0" r="1"/>
<circle cx="415.6" cy="514.9" r="1"/>
<circle cx="410.7" cy="515.4" r="1"/>
<circle cx="429.6" cy="519.2" r="1"/>
<circle cx="434.7" cy="511.3" r="1"/>
<circle cx="448.2" cy="519.0" r="1"/>
<circle cx="453.2" cy="511.9" r="1"/>
<circle cx="459.3" cy="511.3" r="1"/>
<circle cx="460.2" cy="511.9" r="1"/>
<circle cx="459.5" cy="510.2" r="1"/>
<circle cx="476.2" cy="511.0" r="1"/>
<circle cx="495.1" cy="512.5" r="1"/>
<circle cx="505.3" cy="514.4" r="1"/>
<circle cx="514.1" cy="515.3" r="1"/>
<circle cx="522.0" cy="516.3" r="1"/>
<circle cx="535.3" cy="518.5" r="1"/>
<circle cx="548.6" cy="512.3" r="1"/>
<circle cx="558.1" cy="519.0" r="1"/>
<circle cx="373.1" cy="529.2" r="1"/>
<circle cx="390.0" cy="528.9" r="1"/>
<circle cx="390.2" cy="532.4" r="1"/>
<circle cx="391.0" cy="528.3" r="1"/>
<circle cx="391.3" cy="527.2" r="1"/>
<circle cx="390.8" cy="527.9" r="1"/>
<circle cx="406.8" cy="529.1" r="1"/>
<circle cx="401.2" cy="525.1" r="1"/>
<circle cx="405.0" cy="526.9" r="1"/>
<circle cx="410.7" cy="521.1" r="1"/>
<circle cx="408.2" cy="520.2" r="1"/>
<circle cx="411.5" cy="521.8" r="1"/>
<circle cx="428.4" cy="529.9" r="1"/>
<circle cx="431.0" cy="520.6" r="1"/>
<circle cx="444.6" cy="527.6" r="1"/>
<circle cx="454.7" cy="525.2" r="1"/>
<circle cx="454.4" cy="524.9" r="1"/>
<circle cx="458.4" cy="521.8" r="1"/>
<circle cx="467.4" cy="524.1" r="1"/>
<circle cx="468.7" cy="526.3" r="1"/>
<circle cx="478.9" cy="528.0" r="1"/>
<circle cx="516.0" cy="525.0" r="1"/>
<circle cx="549.1" cy="527.4" r="1"/>
<circle cx="379.0" cy="538.8" r="1"/>
<circle cx="387.7" cy="537.7" r="1"/>
<circle cx="397.2" cy="530.7" r="1"/>
<circle cx="396.9" cy="530.8" r="1"/>
<circle cx="406.4" cy="536.2" r="1"/>
<circle cx="409.5" cy="535.1" r="1"/>
<circle cx="404.9" cy="533.8" r="1"/>
<circle cx="413.9" cy="540.0" r="1"/>
<circle cx="417.0" cy="537.6" r="1"/>
<circle cx="420.2" cy="536.2" r="1"/>
<circle cx="422.6" cy="534.0" r="1"/>
<circle cx="432.0" cy="533.8" r="1"/>
<circle cx="431.9" cy="538.5" r="1"/>
<circle cx="435.1" cy="539.7" r="1"/>
<circle cx="450.0" cy="536.4" r="1"/>
<circle cx="440.8" cy="536.0" r="1"/>
<circle cx="450.5" cy="539.3" r="1"/>
<circle cx="449.1" cy="539.5" r="1"/>
<circle cx="466.1" cy="530.6" r="1"/>
<circle cx="464.2" cy="535.3" r="1"/>
<circle cx="473.7" cy="532.9" r="1"/>
<circle cx="485.6" cy="532.8" r="1"/>
<circle cx="532.5" cy="530.4" r="1"/>
<circle cx="547.5" cy="533.9" r="1"/>
<circle cx="389.9" cy="549.4" r="1"/>
<circle cx="399.1" cy="544.3" r="1"/>
<circle cx="400.7" cy="544.0" r="1"/>
<circle cx="409.4" cy="547.2" r="1"/>
<circle cx="419.8" cy="548.2" r="1"/>
<circle cx="411.2" cy="546.2" r="1"/>
<circle cx="422.0" cy="540.5" r="1"/>
<circle cx="431.2" cy="544.4" r="1"/>
<circle cx="444.6" cy="542.6" r="1"/>
<circle cx="454.2" cy="547.8" r="1"/>
<circle cx="459.6" cy="547.7" r="1"/>
<circle cx="462.4" cy="541.1" r="1"/>
<circle cx="467.8" cy="546.2" r="1"/>
<circle cx="472.7" cy="546.9" r="1"/>
<circle cx="485.9" cy="546.3" r="1"/>
<circle cx="422.5" cy="559.8" r="1"/>
<circle cx="438.8" cy="550.4" r="1"/>
<circle cx="442.7" cy="554.3" r="1"/>
<circle cx="451.0" cy="555.4" r="1"/>
<circle cx="453.9" cy="557.1" r="1"/>
<circle cx="466.3" cy="553.7" r="1"/>
<circle cx="466.8" cy="555.7" r="1"/>
<circle cx="478.4" cy="550.7" r="1"/>
<circle cx="488.1" cy="556.2" r="1"/>
<circle cx="424.2" cy="562.6" r="1"/>
<circle cx="433.7" cy="566.5" r="1"/>
<circle cx="443.3" cy="565.5" r="1"/>
<circle cx="459.2" cy="564.3" r="1"/>
<circle cx="461.0" cy="568.8" r="1"/>
<circle cx="463.4" cy="570.2" r="1"/>
<circle cx="476.9" cy="563.0" r="1"/>
<circle cx="480.8" cy="562.1" r="1"/>
<circle cx="423.0" cy="577.2" r="1"/>
<circle cx="432.8" cy="571.4" r="1"/>
<circle cx="447.3" cy="573.7" r="1"/>
<circle cx="446.5" cy="570.9" r="1"/>
<circle cx="459.4" cy="579.1" r="1"/>
<circle cx="468.0" cy="573.0" r="1"/>
<circle cx="463.9" cy="576.1" r="1"/>
<circle cx="472.5" cy="573.6" r="1"/>
<circle cx="483.6" cy="574.0" r="1"/>
<circle cx="491.9" cy="575.6" r="1"/>
<circle cx="445.4" cy="588.4" r="1"/>
<circle cx="451.8" cy="587.6" r="1"/>
<circle cx="462.8" cy="580.2" r="1"/>
<circle cx="475.4" cy="585.7" r="1"/>
<circle cx="486.5" cy="588.0" r="1"/>
<circle cx="495.5" cy="587.9" r="1"/>
<circle cx="440.8" cy="597.4" r="1"/>
<circle cx="450.8" cy="596.3" r="1"/>
<circle cx="467.5" cy="596.5" r="1"/>
<circle cx="468.1" cy="600.2" r="1"/>
<circle cx="477.6" cy="593.9" r="1"/>
<circle cx="489.7" cy="596.7" r="1"/>
<circle cx="495.4" cy="597.2" r="1"/>
<circle cx="458.3" cy="606.7" r="1"/>
<circle cx="468.1" cy="608.3" r="1"/>
<circle cx="479.6" cy="606.4" r="1"/>
<circle cx="487.1" cy="608.0" r="1"/>
<circle cx="494.2" cy="601.5" r="1"/>
<circle cx="499.9" cy="603.8" r="1"/>
<circle cx="502.0" cy="604.2" r="1"/>
<circle cx="502.8" cy="604.1" r="1"/>
<circle cx="511.1" cy="606.5" r="1"/>
<circle cx="441.8" cy="610.6" r="1"/>
<circle cx="455.8" cy="619.1" r="1"/>
<circle cx="456.9" cy="620.0" r="1"/>
<circle cx="462.4" cy="617.2" r="1"/>
<circle cx="462.2" cy="611.8" r="1"/>
<circle cx="471.7" cy="617.6" r="1"/>
<circle cx="467.9" cy="616.4" r="1"/>
<circle cx="482.6" cy="618.9" r="1"/>
<circle cx="483.4" cy="615.5" r="1"/>
<circle cx="494.8" cy="612.2" r="1"/>
<circle cx="498.6" cy="610.9" r="1"/>
<circle cx="505.3" cy="615.2" r="1"/>
<circle cx="508.5" cy="615.0" r="1"/>
<circle cx="507.8" cy="615.3" r="1"/>
<circle cx="518.0" cy="617.1" r="1"/>
<circle cx="511.6" cy="611.6" r="1"/>
<circle cx="438.7" cy="625.2" r="1"/>
<circle cx="449.9" cy="622.7" r="1"/>
<circle cx="451.5" cy="627.7" r="1"/>
<circle cx="468.2" cy="628.5" r="1"/>
<circle cx="460.8" cy="622.7" r="1"/>
<circle cx="471.0" cy="624.8" r="1"/>
<circle cx="473.8" cy="624.0" r="1"/>
<circle cx="483.0" cy="627.9" r="1"/>
<circle cx="483.9" cy="627.4" r="1"/>
<circle cx="492.1" cy="625.4" r="1"/>
<circle cx="494.4" cy="628.9" r="1"/>
<circle cx="503.1" cy="620.8" r="1"/>
<circle cx="499.7" cy="621.5" r="1"/>
<circle cx="502.7" cy="619.8" r="1"/>
<circle cx="514.6" cy="629.7" r="1"/>
<circle cx="516.5" cy="620.1" r="1"/>
<circle cx="442.4" cy="635.6" r="1"/>
<circle cx="450.1" cy="639.9" r="1"/>
<circle cx="452.1" cy="636.2" r="1"/>
<circle cx="463.8" cy="635.4" r="1"/>
<circle cx="462.6" cy="637.3" r="1"/>
<circle cx="472.6" cy="632.0" r="1"/>
<circle cx="483.3" cy="639.5" r="1"/>
<circle cx="497.2" cy="633.3" r="1"/>
<circle cx="500.9" cy="631.4" r="1"/>
<circle cx="516.8" cy="637.1" r="1"/>
<circle cx="524.0" cy="638.4" r="1"/>
<circle cx="442.3" cy="641.6" r="1"/>
<circle cx="454.1" cy="640.7" r="1"/>
<circle cx="464.3" cy="645.1" r="1"/>
<circle cx="514.1" cy="640.2" r="1"/>
<circle cx="527.0" cy="649.8" r="1"/>
<circle cx="463.3" cy="653.4" r="1"/>
<circle cx="513.8" cy="655.1" r="1"/>
<circle cx="467.7" cy="669.0" r="1"/>
<circle cx="376.8" cy="644.9" r="1"/>
<circle cx="405.2" cy="637.8" r="1"/>
<circle cx="420.4" cy="648.1" r="1"/>
<circle cx="437.8" cy="645.2" r="1"/>
<circle cx="413.7" cy="647.4" r="1"/>
<circle cx="384.6" cy="648.3" r="1"/>
<circle cx="409.8" cy="646.1" r="1"/>
<circle cx="436.6" cy="644.3" r="1"/>
<circle cx="393.5" cy="645.4" r="1"/>
<circle cx="440.0" cy="647.4" r="1"/>
<circle cx="376.3" cy="650.3" r="1"/>
<circle cx="408.6" cy="644.7" r="1"/>
<circle cx="408.6" cy="646.4" r="1"/>
<circle cx="441.4" cy="654.0" r="1"/>
<circle cx="428.1" cy="645.7" r="1"/>
<circle cx="428.7" cy="646.0" r="1"/>
<circle cx="387.9" cy="648.9" r="1"/>
<circle cx="409.6" cy="645.6" r="1"/>
<circle cx="429.1" cy="648.6" r="1"/>
<circle cx="371.8" cy="650.7" r="1"/>
<circle cx="368.4" cy="651.0" r="1"/>
<circle cx="437.4" cy="655.5" r="1"/>
<circle cx="416.0" cy="645.3" r="1"/>
<circle cx="422.1" cy="651.5" r="1"/>
<circle cx="388.5" cy="664.2" r="1"/>
<circle cx="362.2" cy="665.5" r="1"/>
<circle cx="375.4" cy="666.6" r="1"/>
<circle cx="388.8" cy="668.3" r="1"/>
<circle cx="402.0" cy="669.4" r="1"/>
<circle cx="380.0" cy="670.7" r="1"/>
<circle cx="401.9" cy="666.2" r="1"/>
<circle cx="363.7" cy="671.1" r="1"/>
<circle cx="409.3" cy="671.9" r="1"/>
<circle cx="404.2" cy="673.0" r="1"/>
<circle cx="394.8" cy="665.0" r="1"/>
<circle cx="410.6" cy="669.8" r="1"/>
<circle cx="415.6" cy="668.0" r="1"/>
<circle cx="432.6" cy="674.3" r="1"/>
<circle cx="421.4" cy="676.9" r="1"/>
<circle cx="392.2" cy="674.8" r="1"/>
<circle cx="401.7" cy="677.5" r="1"/>
<circle cx="398.8" cy="675.0" r="1"/>
<circle cx="392.1" cy="677.1" r="1"/>
<circle cx="364.9" cy="675.3" r="1"/>
<circle cx="413.2" cy="678.0" r="1"/>
<circle cx="404.0" cy="674.6" r="1"/>
<circle cx="415.1" cy="675.3" r="1"/>
<circle cx="366.0" cy="677.9" r="1"/>
<circle cx="370.0" cy="674.3" r="1"/>
<circle cx="389.6" cy="676.6" r="1"/>
<circle cx="386.6" cy="492.1" r="1"/>
<circle cx="386.7" cy="500.9" r="1"/>
<circle cx="389.0" cy="506.4" r="1"/>
<circle cx="386.0" cy="513.5" r="1"/>
<circle cx="387.2" cy="517.1" r="1"/>
<circle cx="385.0" cy="524.3" r="1"/>
<circle cx="387.1" cy="526.7" r="1"/>
<circle cx="387.0" cy="535.2" r="1"/>
<circle cx="386.7" cy="540.0" r="1"/>
<circle cx="388.5" cy="542.6" r="1"/>
<circle cx="388.9" cy="493.0" r="1"/>
<circle cx="394.6" cy="492.4" r="1"/>
<circle cx="395.7" cy="492.0" r="1"/>
<circle cx="404.6" cy="492.1" r="1"/>
<circle cx="408.5" cy="491.0" r="1"/>
<circle cx="411.0" cy="491.2" r="1"/>
<circle cx="427.4" cy="469.8" r="1"/>
<circle cx="434.8" cy="469.4" r="1"/>
<circle cx="435.6" cy="467.8" r="1"/>
<circle cx="440.0" cy="467.1" r="1"/>
<circle cx="450.6" cy="466.8" r="1"/>
<circle cx="449.9" cy="465.8" r="1"/>
<circle cx="458.1" cy="468.3" r="1"/>
<circle cx="461.8" cy="467.4" r="1"/>
<circle cx="466.7" cy="469.5" r="1"/>
<circle cx="473.9" cy="469.1" r="1"/>
<circle cx="422.4" cy="472.5" r="1"/>
<circle cx="424.3" cy="474.5" r="1"/>
<circle cx="422.7" cy="480.2" r="1"/>
<circle cx="421.9" cy="490.4" r="1"/>
<circle cx="392.1" cy="550.5" r="1"/>
<circle cx="394.7" cy="552.1" r="1"/>
<circle cx="398.5" cy="552.1" r="1"/>
<circle cx="404.6" cy="551.9" r="1"/>
<circle cx="412.1" cy="549.0" r="1"/>
<circle cx="424.0" cy="612.4" r="1"/>
<circle cx="429.2" cy="611.5" r="1"/>
<circle cx="431.7" cy="632.0" r="1"/>
<circle cx="441.9" cy="671.7" r="1"/>
<circle cx="455.4" cy="671.7" r="1"/>
<circle cx="475.0" cy="660.0" r="1"/>
<circle cx="527.3" cy="556.3" r="1"/>
<circle cx="530.1" cy="564.7" r="1"/>
<circle cx="530.9" cy="566.5" r="1"/>
<circle cx="529.9" cy="559.8" r="1"/>
<circle cx="531.1" cy="557.1" r="1"/>
<circle cx="532.5" cy="557.4" r="1"/>
<circle cx="528.4" cy="562.0" r="1"/>
<circle cx="527.5" cy="561.3" r="1"/>
<circle cx="528.8" cy="559.4" r="1"/>
<circle cx="528.9" cy="556.8" r="1"/>
<circle cx="527.3" cy="556.0" r="1"/>
<circle cx="526.9" cy="555.4" r="1"/>
<circle cx="539.9" cy="581.7" r="1"/>
<circle cx="540.0" cy="581.9" r="1"/>
<circle cx="538.4" cy="582.4" r="1"/>
<circle cx="540.0" cy="581.2" r="1"/>
<circle cx="539.8" cy="575.8" r="1"/>
<circle cx="535.9" cy="568.6" r="1"/>
<circle cx="537.1" cy="569.0" r="1"/>
<circle cx="539.3" cy="570.8" r="1"/>
<circle cx="534.1" cy="580.8" r="1"/>
<circle cx="534.0" cy="581.7" r="1"/>
<circle cx="543.0" cy="580.2" r="1"/>
<circle cx="541.8" cy="580.9" r="1"/>
<circle cx="541.3" cy="603.4" r="1"/>
<circle cx="538.8" cy="603.6" r="1"/>
<circle cx="540.9" cy="593.1" r="1"/>
<circle cx="540.2" cy="588.8" r="1"/>
<circle cx="540.8" cy="591.9" r="1"/>
<circle cx="540.3" cy="592.1" r="1"/>
<circle cx="543.4" cy="591.8" r="1"/>
<circle cx="541.4" cy="589.1" r="1"/>
<circle cx="541.5" cy="593.2" r="1"/>
<circle cx="542.2" cy="590.7" r="1"/>
<circle cx="553.8" cy="617.4" r="1"/>
<circle cx="552.0" cy="618.7" r="1"/>
<circle cx="552.5" cy="619.4" r="1"/>
<circle cx="549.1" cy="623.5" r="1"/>
<circle cx="546.8" cy="625.3" r="1"/>
<circle cx="549.3" cy="622.5" r="1"/>
<circle cx="549.9" cy="625.2" r="1"/>
<circle cx="549.4" cy="624.5" r="1"/>
<circle cx="559.1" cy="590.4" r="1"/>
<circle cx="556.5" cy="535.7" r="1"/>
<circle cx="548.0" cy="540.0" r="1"/>
<circle cx="552.0" cy="545.0" r="1"/>
</g>
<g fill="none" stroke="#f1756b" stroke-width="2.15">
<circle cx="563.4" cy="327.0" r="8.1"/>
<circle cx="539.5" cy="331.3" r="8.1"/>
<circle cx="523.3" cy="348.4" r="8.1"/>
<circle cx="513.9" cy="368.5" r="8.1"/>
<circle cx="552.2" cy="386.4" r="8.1"/>
<circle cx="512.3" cy="392.4" r="8.1"/>
<circle cx="513.3" cy="402.6" r="8.1"/>
<circle cx="533.8" cy="406.9" r="8.1"/>
<circle cx="545.9" cy="408.9" r="8.1"/>
<circle cx="545.6" cy="417.9" r="8.1"/>
<circle cx="492.3" cy="416.6" r="8.1"/>
<circle cx="565.3" cy="418.6" r="8.1"/>
<circle cx="570.5" cy="423.6" r="8.1"/>
<circle cx="515.2" cy="421.1" r="8.1"/>
<circle cx="520.4" cy="422.3" r="8.1"/>
<circle cx="521.4" cy="423.9" r="8.1"/>
<circle cx="512.3" cy="435.7" r="8.1"/>
<circle cx="540.7" cy="443.9" r="8.1"/>
<circle cx="543.6" cy="447.4" r="8.1"/>
<circle cx="545.0" cy="450.5" r="8.1"/>
<circle cx="539.5" cy="462.2" r="8.1"/>
<circle cx="546.6" cy="462.8" r="8.1"/>
<circle cx="554.2" cy="459.2" r="8.1"/>
<circle cx="560.7" cy="452.2" r="8.1"/>
<circle cx="549.5" cy="455.0" r="8.1"/>
<circle cx="553.5" cy="443.0" r="8.1"/>
<circle cx="555.5" cy="444.5" r="8.1"/>
<circle cx="557.0" cy="442.5" r="8.1"/>
<circle cx="558.5" cy="445.5" r="8.1"/>
<circle cx="556.0" cy="447.0" r="8.1"/>
<circle cx="559.5" cy="447.5" r="8.1"/>
<circle cx="554.5" cy="446.0" r="8.1"/>
<circle cx="557.5" cy="449.0" r="8.1"/>
<circle cx="560.0" cy="444.0" r="8.1"/>
<circle cx="562.0" cy="476.4" r="8.1"/>
<circle cx="488.0" cy="458.8" r="8.1"/>
<circle cx="492.4" cy="458.0" r="8.1"/>
<circle cx="495.4" cy="460.3" r="8.1"/>
<circle cx="489.4" cy="463.2" r="8.1"/>
<circle cx="485.0" cy="464.7" r="8.1"/>
<circle cx="493.9" cy="466.2" r="8.1"/>
<circle cx="498.4" cy="464.7" r="8.1"/>
<circle cx="483.5" cy="469.2" r="8.1"/>
<circle cx="489.4" cy="470.7" r="8.1"/>
<circle cx="495.4" cy="472.2" r="8.1"/>
<circle cx="501.4" cy="469.2" r="8.1"/>
<circle cx="505.8" cy="471.4" r="8.1"/>
<circle cx="482.0" cy="475.2" r="8.1"/>
<circle cx="488.0" cy="476.6" r="8.1"/>
<circle cx="493.9" cy="478.1" r="8.1"/>
<circle cx="483.5" cy="481.1" r="8.1"/>
<circle cx="489.4" cy="482.6" r="8.1"/>
<circle cx="495.4" cy="484.1" r="8.1"/>
<circle cx="480.5" cy="485.6" r="8.1"/>
<circle cx="486.5" cy="487.8" r="8.1"/>
<circle cx="492.4" cy="489.3" r="8.1"/>
<circle cx="474.5" cy="493.0" r="8.1"/>
<circle cx="479.0" cy="488.6" r="8.1"/>
<circle cx="515.7" cy="490.9" r="8.1"/>
<circle cx="534.4" cy="487.1" r="8.1"/>
<circle cx="532.2" cy="494.5" r="8.1"/>
<circle cx="533.7" cy="499.0" r="8.1"/>
<circle cx="536.6" cy="501.2" r="8.1"/>
<circle cx="542.6" cy="494.5" r="8.1"/>
<circle cx="547.1" cy="491.6" r="8.1"/>
<circle cx="550.1" cy="496.0" r="8.1"/>
<circle cx="545.6" cy="499.0" r="8.1"/>
<circle cx="551.6" cy="501.2" r="8.1"/>
<circle cx="548.6" cy="487.1" r="8.1"/>
<circle cx="544.1" cy="508.0" r="8.1"/>
<circle cx="539.6" cy="503.5" r="8.1"/>
<circle cx="553.0" cy="494.5" r="8.1"/>
<circle cx="449.7" cy="512.5" r="8.1"/>
<circle cx="470.1" cy="513.2" r="8.1"/>
<circle cx="476.0" cy="508.0" r="8.1"/>
<circle cx="490.5" cy="515.8" r="8.1"/>
<circle cx="499.5" cy="525.2" r="8.1"/>
<circle cx="534.8" cy="529.2" r="8.1"/>
<circle cx="555.3" cy="534.9" r="8.1"/>
<circle cx="509.5" cy="539.4" r="8.1"/>
<circle cx="522.9" cy="549.3" r="8.1"/>
<circle cx="493.9" cy="539.4" r="8.1"/>
<circle cx="496.9" cy="542.4" r="8.1"/>
<circle cx="490.9" cy="543.9" r="8.1"/>
<circle cx="486.5" cy="546.8" r="8.1"/>
<circle cx="495.4" cy="548.3" r="8.1"/>
<circle cx="480.5" cy="548.3" r="8.1"/>
<circle cx="483.5" cy="552.8" r="8.1"/>
<circle cx="488.0" cy="554.3" r="8.1"/>
<circle cx="496.9" cy="552.8" r="8.1"/>
<circle cx="480.5" cy="557.3" r="8.1"/>
<circle cx="474.5" cy="561.7" r="8.1"/>
<circle cx="477.5" cy="555.8" r="8.1"/>
<circle cx="492.4" cy="536.4" r="8.1"/>
<circle cx="436.0" cy="593.8" r="8.1"/>
<circle cx="395.3" cy="620.8" r="8.1"/>
<circle cx="529.4" cy="598.3" r="8.1"/>
<circle cx="539.8" cy="597.6" r="8.1"/>
<circle cx="550.9" cy="617.0" r="8.1"/>
<circle cx="541.8" cy="625.8" r="8.1"/>
<circle cx="540.7" cy="632.5" r="8.1"/>
<circle cx="540.7" cy="636.6" r="8.1"/>
<circle cx="542.0" cy="648.4" r="8.1"/>
<circle cx="543.3" cy="662.3" r="8.1"/>
<circle cx="523.3" cy="659.5" r="8.1"/>
<circle cx="566.6" cy="670.0" r="8.1"/>
<circle cx="578.7" cy="659.3" r="8.1"/>
<circle cx="584.9" cy="655.0" r="8.1"/>
<circle cx="497.4" cy="648.5" r="8.1"/>
<circle cx="486.1" cy="643.7" r="8.1"/>
<circle cx="481.7" cy="655.0" r="8.1"/>
<circle cx="502.6" cy="669.9" r="8.1"/>
<circle cx="504.0" cy="673.7" r="8.1"/>
<circle cx="507.5" cy="677.0" r="8.1"/>
<circle cx="522.6" cy="671.2" r="8.1"/>
<circle cx="525.5" cy="672.6" r="8.1"/>
<circle cx="528.4" cy="674.1" r="8.1"/>
<circle cx="527.9" cy="676.3" r="8.1"/>
<circle cx="531.4" cy="677.0" r="8.1"/>
<circle cx="524.0" cy="675.5" r="8.1"/>
<circle cx="530.1" cy="671.9" r="8.1"/>
<circle cx="533.3" cy="674.3" r="8.1"/>
<circle cx="521.5" cy="673.8" r="8.1"/>
<circle cx="457.0" cy="662.5" r="8.1"/>
<circle cx="461.4" cy="661.0" r="8.1"/>
<circle cx="465.7" cy="659.6" r="8.1"/>
<circle cx="470.1" cy="662.5" r="8.1"/>
<circle cx="473.0" cy="665.4" r="8.1"/>
<circle cx="467.2" cy="666.8" r="8.1"/>
<circle cx="462.8" cy="668.3" r="8.1"/>
<circle cx="457.0" cy="674.1" r="8.1"/>
<circle cx="459.9" cy="676.3" r="8.1"/>
<circle cx="473.0" cy="669.7" r="8.1"/>
</g>
<g fill="#f1756b">
<circle cx="563.4" cy="327.0" r="1.2"/>
<circle cx="539.5" cy="331.3" r="1.2"/>
<circle cx="523.3" cy="348.4" r="1.2"/>
<circle cx="513.9" cy="368.5" r="1.2"/>
<circle cx="552.2" cy="386.4" r="1.2"/>
<circle cx="512.3" cy="392.4" r="1.2"/>
<circle cx="513.3" cy="402.6" r="1.2"/>
<circle cx="533.8" cy="406.9" r="1.2"/>
<circle cx="545.9" cy="408.9" r="1.2"/>
<circle cx="545.6" cy="417.9" r="1.2"/>
<circle cx="492.3" cy="416.6" r="1.2"/>
<circle cx="565.3" cy="418.6" r="1.2"/>
<circle cx="570.5" cy="423.6" r="1.2"/>
<circle cx="515.2" cy="421.1" r="1.2"/>
<circle cx="520.4" cy="422.3" r="1.2"/>
<circle cx="521.4" cy="423.9" r="1.2"/>
<circle cx="512.3" cy="435.7" r="1.2"/>
<circle cx="540.7" cy="443.9" r="1.2"/>
<circle cx="543.6" cy="447.4" r="1.2"/>
<circle cx="545.0" cy="450.5" r="1.2"/>
<circle cx="539.5" cy="462.2" r="1.2"/>
<circle cx="546.6" cy="462.8" r="1.2"/>
<circle cx="554.2" cy="459.2" r="1.2"/>
<circle cx="560.7" cy="452.2" r="1.2"/>
<circle cx="549.5" cy="455.0" r="1.2"/>
<circle cx="553.5" cy="443.0" r="1.2"/>
<circle cx="555.5" cy="444.5" r="1.2"/>
<circle cx="557.0" cy="442.5" r="1.2"/>
<circle cx="558.5" cy="445.5" r="1.2"/>
<circle cx="556.0" cy="447.0" r="1.2"/>
<circle cx="559.5" cy="447.5" r="1.2"/>
<circle cx="554.5" cy="446.0" r="1.2"/>
<circle cx="557.5" cy="449.0" r="1.2"/>
<circle cx="560.0" cy="444.0" r="1.2"/>
<circle cx="562.0" cy="476.4" r="1.2"/>
<circle cx="488.0" cy="458.8" r="1.2"/>
<circle cx="492.4" cy="458.0" r="1.2"/>
<circle cx="495.4" cy="460.3" r="1.2"/>
<circle cx="489.4" cy="463.2" r="1.2"/>
<circle cx="485.0" cy="464.7" r="1.2"/>
<circle cx="493.9" cy="466.2" r="1.2"/>
<circle cx="498.4" cy="464.7" r="1.2"/>
<circle cx="483.5" cy="469.2" r="1.2"/>
<circle cx="489.4" cy="470.7" r="1.2"/>
<circle cx="495.4" cy="472.2" r="1.2"/>
<circle cx="501.4" cy="469.2" r="1.2"/>
<circle cx="505.8" cy="471.4" r="1.2"/>
<circle cx="482.0" cy="475.2" r="1.2"/>
<circle cx="488.0" cy="476.6" r="1.2"/>
<circle cx="493.9" cy="478.1" r="1.2"/>
<circle cx="483.5" cy="481.1" r="1.2"/>
<circle cx="489.4" cy="482.6" r="1.2"/>
<circle cx="495.4" cy="484.1" r="1.2"/>
<circle cx="480.5" cy="485.6" r="1.2"/>
<circle cx="486.5" cy="487.8" r="1.2"/>
<circle cx="492.4" cy="489.3" r="1.2"/>
<circle cx="474.5" cy="493.0" r="1.2"/>
<circle cx="479.0" cy="488.6" r="1.2"/>
<circle cx="515.7" cy="490.9" r="1.2"/>
<circle cx="534.4" cy="487.1" r="1.2"/>
<circle cx="532.2" cy="494.5" r="1.2"/>
<circle cx="533.7" cy="499.0" r="1.2"/>
<circle cx="536.6" cy="501.2" r="1.2"/>
<circle cx="542.6" cy="494.5" r="1.2"/>
<circle cx="547.1" cy="491.6" r="1.2"/>
<circle cx="550.1" cy="496.0" r="1.2"/>
<circle cx="545.6" cy="499.0" r="1.2"/>
<circle cx="551.6" cy="501.2" r="1.2"/>
<circle cx="548.6" cy="487.1" r="1.2"/>
<circle cx="544.1" cy="508.0" r="1.2"/>
<circle cx="539.6" cy="503.5" r="1.2"/>
<circle cx="553.0" cy="494.5" r="1.2"/>
<circle cx="449.7" cy="512.5" r="1.2"/>
<circle cx="470.1" cy="513.2" r="1.2"/>
<circle cx="476.0" cy="508.0" r="1.2"/>
<circle cx="490.5" cy="515.8" r="1.2"/>
<circle cx="499.5" cy="525.2" r="1.2"/>
<circle cx="534.8" cy="529.2" r="1.2"/>
<circle cx="555.3" cy="534.9" r="1.2"/>
<circle cx="509.5" cy="539.4" r="1.2"/>
<circle cx="522.9" cy="549.3" r="1.2"/>
<circle cx="493.9" cy="539.4" r="1.2"/>
<circle cx="496.9" cy="542.4" r="1.2"/>
<circle cx="490.9" cy="543.9" r="1.2"/>
<circle cx="486.5" cy="546.8" r="1.2"/>
<circle cx="495.4" cy="548.3" r="1.2"/>
<circle cx="480.5" cy="548.3" r="1.2"/>
<circle cx="483.5" cy="552.8" r="1.2"/>
<circle cx="488.0" cy="554.3" r="1.2"/>
<circle cx="496.9" cy="552.8" r="1.2"/>
<circle cx="480.5" cy="557.3" r="1.2"/>
<circle cx="474.5" cy="561.7" r="1.2"/>
<circle cx="477.5" cy="555.8" r="1.2"/>
<circle cx="492.4" cy="536.4" r="1.2"/>
<circle cx="436.0" cy="593.8" r="1.2"/>
<circle cx="395.3" cy="620.8" r="1.2"/>
<circle cx="529.4" cy="598.3" r="1.2"/>
<circle cx="539.8" cy="597.6" r="1.2"/>
<circle cx="550.9" cy="617.0" r="1.2"/>
<circle cx="541.8" cy="625.8" r="1.2"/>
<circle cx="540.7" cy="632.5" r="1.2"/>
<circle cx="540.7" cy="636.6" r="1.2"/>
<circle cx="542.0" cy="648.4" r="1.2"/>
<circle cx="543.3" cy="662.3" r="1.2"/>
<circle cx="523.3" cy="659.5" r="1.2"/>
<circle cx="566.6" cy="670.0" r="1.2"/>
<circle cx="578.7" cy="659.3" r="1.2"/>
<circle cx="584.9" cy="655.0" r="1.2"/>
<circle cx="497.4" cy="648.5" r="1.2"/>
<circle cx="486.1" cy="643.7" r="1.2"/>
<circle cx="481.7" cy="655.0" r="1.2"/>
<circle cx="502.6" cy="669.9" r="1.2"/>
<circle cx="504.0" cy="673.7" r="1.2"/>
<circle cx="507.5" cy="677.0" r="1.2"/>
<circle cx="522.6" cy="671.2" r="1.2"/>
<circle cx="525.5" cy="672.6" r="1.2"/>
<circle cx="528.4" cy="674.1" r="1.2"/>
<circle cx="527.9" cy="676.3" r="1.2"/>
<circle cx="531.4" cy="677.0" r="1.2"/>
<circle cx="524.0" cy="675.5" r="1.2"/>
<circle cx="530.1" cy="671.9" r="1.2"/>
<circle cx="533.3" cy="674.3" r="1.2"/>
<circle cx="521.5" cy="673.8" r="1.2"/>
<circle cx="457.0" cy="662.5" r="1.2"/>
<circle cx="461.4" cy="661.0" r="1.2"/>
<circle cx="465.7" cy="659.6" r="1.2"/>
<circle cx="470.1" cy="662.5" r="1.2"/>
<circle cx="473.0" cy="665.4" r="1.2"/>
<circle cx="467.2" cy="666.8" r="1.2"/>
<circle cx="462.8" cy="668.3" r="1.2"/>
<circle cx="457.0" cy="674.1" r="1.2"/>
<circle cx="459.9" cy="676.3" r="1.2"/>
<circle cx="473.0" cy="669.7" r="1.2"/>
</g>
<g fill="none" stroke="#000" stroke-width="1.45">
<line x1="143.5" y1="680.9" x2="734.6" y2="89.9" stroke-width="1.9"/>
<rect x="143.5" y="89.9" width="591.1" height="591.0"/>
<rect x="142.9" y="5.7" width="591.7" height="75.1"/>
<rect x="745.9" y="88.9" width="75.4" height="591.4"/>
<path stroke-width="1.8" d="M291.3 680.9v-8.2M291.3 89.9v8.2M143.5 533.1h8.2M734.6 533.1h-8.2"/>
<path stroke-width="1.8" d="M439.1 680.9v-8.2M439.1 89.9v8.2M143.5 385.4h8.2M734.6 385.4h-8.2"/>
<path stroke-width="1.8" d="M586.8 680.9v-8.2M586.8 89.9v8.2M143.5 237.6h8.2M734.6 237.6h-8.2"/>
<path d="M142.9 37.8h5.5M734.6 37.8h-5.5M788.7 88.9v5.5M788.7 680.3v-5.5"/>
</g>
<g font-family="'Liberation Serif','Times New Roman',serif" fill="#000">
<text x="133.3" y="722.6" font-size="30.5">0</text>
<text x="97.7" y="686.8" font-size="30.5">0</text>
<text x="269.6" y="722.6" font-size="30.5">0.25</text>
<text x="75.5" y="539.0" font-size="30.5">0.25</text>
<text x="422.4" y="722.6" font-size="30.5">0.5</text>
<text x="84.1" y="391.3" font-size="30.5">0.5</text>
<text x="565.0" y="722.6" font-size="30.5">0.75</text>
<text x="75.4" y="243.5" font-size="30.5">0.75</text>
<text x="725.4" y="722.6" font-size="30.5">1</text>
<text x="97.7" y="95.8" font-size="30.5">1</text>
<circle cx="198.6" cy="157.8" r="11.45" fill="none" stroke="#f4827a" stroke-width="5.0"/><circle cx="198.6" cy="157.8" r="2.75" fill="#f4827a"/>
<rect x="187.05" y="199.45" width="23.1" height="23.1" fill="none" stroke="#7badd4" stroke-width="6.2"/><circle cx="198.6" cy="210.9" r="3.4" fill="#7badd4"/>
<text x="255" y="163.6" font-size="36.5">type-III</text>
<text x="255" y="217.4" font-size="36.5">type-IV</text>
<text x="593.5" y="151.3" font-size="44.5" font-style="italic">y=x</text>
<g transform="translate(370.9 781.8)"><text x="-1.60" y="5.60" font-size="56" stroke="#000" stroke-width="1.2">&lt;</text><text x="28.00" y="0" font-size="51.5" font-style="italic">L</text><text x="55.00" y="0" font-size="51.5">/</text><text x="71.00" y="0" font-size="51.5" font-style="italic">L</text><text x="99.00" y="17.1" font-size="30">max</text><text x="148.60" y="5.60" font-size="56" stroke="#000" stroke-width="1.2">&gt;</text><text x="179.50" y="17.1" font-size="30">in</text></g>
<g transform="translate(39.2 496.2) rotate(-90)"><text x="-1.60" y="5.60" font-size="56" stroke="#000" stroke-width="1.2">&lt;</text><text x="28.30" y="0" font-size="51.5" font-style="italic">L</text><text x="55.80" y="0" font-size="51.5">/</text><text x="72.40" y="0" font-size="51.5" font-style="italic">L</text><text x="99.70" y="17.1" font-size="30">max</text><text x="150.80" y="5.60" font-size="56" stroke="#000" stroke-width="1.2">&gt;</text><text x="181.20" y="17.1" font-size="30">out</text></g>
</g>
</svg>
</body></html>
